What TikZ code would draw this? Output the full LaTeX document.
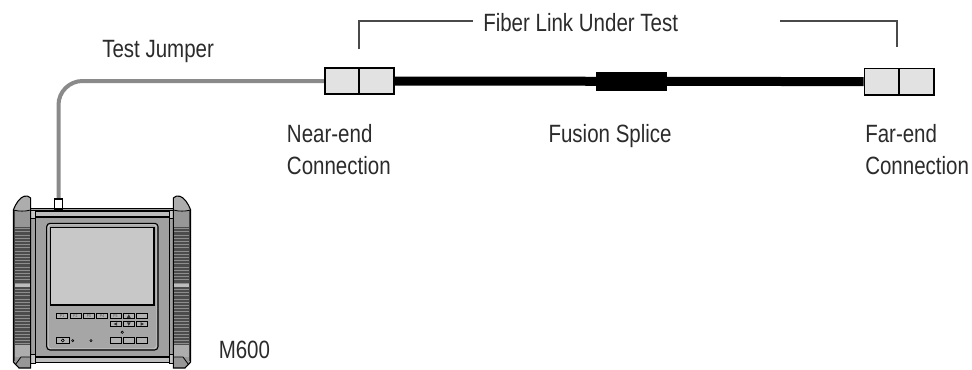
\documentclass[tikz,border=0pt]{standalone}
\usepackage{fontspec}
\setmainfont{Liberation Sans}[FakeStretch=0.82]
\pgfdeclarelayer{background}
\pgfsetlayers{background,main}

\definecolor{jumpergray}{HTML}{8A8A8A}
\definecolor{connfill}{HTML}{E2E2E2}
\definecolor{labelgray}{HTML}{2B2B2B}
\definecolor{bracketgray}{HTML}{4A4A4A}
\definecolor{bodygray}{HTML}{A0A0A0}
\definecolor{stripgray}{HTML}{BDBDBD}
\definecolor{panelgray}{HTML}{A6A6A6}
\definecolor{screengray}{HTML}{C8C8C8}
\definecolor{keygray}{HTML}{B2B2B2}
\definecolor{handlegray}{HTML}{979797}
\definecolor{capgray}{HTML}{ADADAD}
\definecolor{ribdark}{HTML}{4C4C4C}
\definecolor{ribline}{HTML}{8E8E8E}

% one side grip of the instrument (left side; mirrored for the right)
\newcommand\drawgriphandle{%
  \fill[handlegray] (13.3,210) -- (13.3,362) -- (19,368) -- (30.7,368) -- (30.7,198)
     .. controls (29.5,196) and (26,195.5) .. (24,196.3)
     .. controls (20,197.5) and (16,203) .. (13.3,210) -- cycle;
  \fill[capgray] (13.3,210) .. controls (16,203) and (20,197.5) .. (24,196.3)
     .. controls (26,195.5) and (29.5,196) .. (30.7,198) -- (30.7,210)
     .. controls (25,211.5) and (19,211.5) .. (13.3,210) -- cycle;
  \fill[ribdark] (13.3,227) rectangle (30.7,345);
  \foreach \r in {228.5,231.7,...,344} \draw[ribline,line width=0.55pt] (13.3,\r) -- (30.7,\r);
  \fill[stripgray] (13.3,284.3) rectangle (30.7,287.3);
  \fill[capgray] (13.3,345) rectangle (30.7,357);
  \draw[black!75,line width=1.4pt] (14.1,210) -- (14.1,361);
  \draw[line width=0.6pt] (15.5,364.5) -- (21,357) -- (30.7,357);
  \draw[line width=0.6pt] (13.3,210) .. controls (19,211.5) and (25,211.5) .. (30.7,210);
  \draw[line width=0.8pt] (13.3,210) -- (13.3,362) -- (19,368) -- (30.7,368) -- (30.7,198)
     .. controls (29.5,196) and (26,195.5) .. (24,196.3)
     .. controls (20,197.5) and (16,203) .. (13.3,210) -- cycle;
}

\begin{document}
\begin{tikzpicture}[x=0.75pt,y=-0.75pt,
  txt/.style={anchor=base west, inner sep=0pt, text=labelgray,
    font=\fontsize{18.75pt}{24pt}\selectfont},
  conn/.style={rectangle, draw=black, line width=1.3pt, fill=connfill,
    inner sep=0pt, minimum width=26pt, minimum height=19.8pt},
  splicebox/.style={rectangle, fill=black, inner sep=0pt,
    minimum width=53.25pt, minimum height=14.25pt},
  fiber/.style={line width=6.75pt, black},
  jumper/.style={line width=3pt, jumpergray, rounded corners=18pt},
  bracket/.style={line width=1.3pt, bracketgray},
  key/.style={draw=black, line width=0.5pt, fill=keygray},
  keytxt/.style={inner sep=0pt, text=black!70, font=\fontsize{3.2pt}{3.5pt}\selectfont},
  arrowtip/.style={fill=black!80},
  pinhole/.style={draw=black, line width=0.45pt, fill=black!35}]

\useasboundingbox (0,0) rectangle (972,369);

% ---------- instrument body ----------
\fill[bodygray] (30.7,208) rectangle (173.3,363);
\draw[line width=0.7pt] (35,217.5) rectangle (169.3,357);
\draw[line width=1.2pt, fill=stripgray] (35,211) rectangle (169.3,217.2);
\draw[line width=1.2pt] (30.7,208.6) -- (173.3,208.6);
\draw[line width=0.6pt, fill=stripgray!85] (30.7,210) rectangle (35,218);
\draw[line width=0.6pt, fill=stripgray!85] (169.3,210) rectangle (173.3,218);
\draw[line width=1.2pt, fill=stripgray] (35,357) rectangle (169.3,362.6);
\draw[line width=0.6pt, fill=stripgray!85] (30.7,354.5) rectangle (35,363);
\draw[line width=0.6pt, fill=stripgray!85] (169.3,354.5) rectangle (173.3,363);

% front panel and display
\draw[line width=0.8pt, fill=panelgray, rounded corners=2.5pt] (46.7,223.3) rectangle (158,350);
\draw[line width=0.35pt, white!70!gray, rounded corners=2pt] (48.2,224.8) rectangle (156.5,348.5);
\draw[line width=0.8pt, fill=screengray] (50.7,227.3) rectangle (154,305);

% keypad, first row: F1..F5, up, blank
\foreach \kx [count=\i] in {56.7,70,83.3,96.7,110} {
  \draw[key] (\kx,313.3) rectangle ++(11,5.5);
  \node[keytxt] (fkey\i) at (\kx+5.5,316.05) {F\i};
}
\draw[key] (123.3,313.3) rectangle ++(11,5.5);
\draw[key] (136.7,313.3) rectangle ++(11,5.5);
\fill[arrowtip] (126.9,317.8) -- (130.7,317.8) -- (128.8,314.3) -- cycle;
% second row: left, down, right
\draw[key] (110,321.2) rectangle ++(11,5.5);
\draw[key] (123.3,321.2) rectangle ++(11,5.5);
\draw[key] (136.7,321.2) rectangle ++(11,5.5);
\fill[arrowtip] (113.7,324) -- (117.2,322.2) -- (117.2,325.8) -- cycle;
\fill[arrowtip] (126.9,322.3) -- (130.7,322.3) -- (128.8,325.8) -- cycle;
\fill[arrowtip] (144,324) -- (140.5,322.2) -- (140.5,325.8) -- cycle;
\draw[pinhole] (122.3,332.3) circle (1.2);
% third row: power, indicators, three soft keys
\draw[key] (56.7,337.7) rectangle ++(12.3,5.7);
\draw[line width=0.4pt] (62.8,340.5) circle (1.5);
\draw[line width=0.4pt] (62.8,338.6) -- (62.8,340.4);
\draw[pinhole] (72.7,340.6) circle (1.1);
\draw[pinhole] (91,340.6) circle (1.1);
\draw[key] (110,337.7) rectangle ++(11,5.6);
\draw[key] (123.3,337.7) rectangle ++(11,5.6);
\draw[key] (136.7,337.7) rectangle ++(11,5.6);

% grips
\drawgriphandle
\begin{scope}[xshift=153pt,xscale=-1]
  \drawgriphandle
\end{scope}

% test port on top of the instrument
\node[rectangle, draw=black, line width=0.8pt, fill=white, inner sep=0pt,
  minimum width=6.3pt, minimum height=7.5pt] (port) at (58.5,204) {};

% ---------- link ----------
\node[conn] (nearA) at (342.1,81) {};
\node[conn] (nearB) at (376.6,81) {};
\node[conn] (farA) at (881.8,81.6) {};
\node[conn] (farB) at (916.8,81.6) {};
\node[splicebox] (splice) at (631.5,81.5) {};

\begin{pgfonlayer}{background}
  \draw[fiber] (nearB.east) -- (farA.west);
  \draw[jumper] (port.north) |- (nearA.west);
\end{pgfonlayer}

% bracket over the link under test
\coordinate (brkL) at (359.3,49.3);
\coordinate (brkLend) at (473,20.7);
\coordinate (brkR) at (897.3,46.7);
\coordinate (brkRend) at (780,20.7);
\draw[bracket] (brkL) |- (brkLend);
\draw[bracket] (brkR) |- (brkRend);

% ---------- labels ----------
\node[txt] (linklbl) at (483,31.7) {Fiber Link Under Test};
\node[txt] (jumperlbl) at (102,57.3) {Test Jumper};
\node[txt] (nearlbl1) at (286.7,142.3) {Near-end};
\node[txt] (nearlbl2) at (286.7,174) {Connection};
\node[txt] (splicelbl) at (548.3,142.8) {Fusion Splice};
\node[txt] (farlbl1) at (865,142.8) {Far-end};
\node[txt] (farlbl2) at (865,174.5) {Connection};
\node[txt] (unitlbl) at (218.5,358.5) {M600};

\end{tikzpicture}
\end{document}
